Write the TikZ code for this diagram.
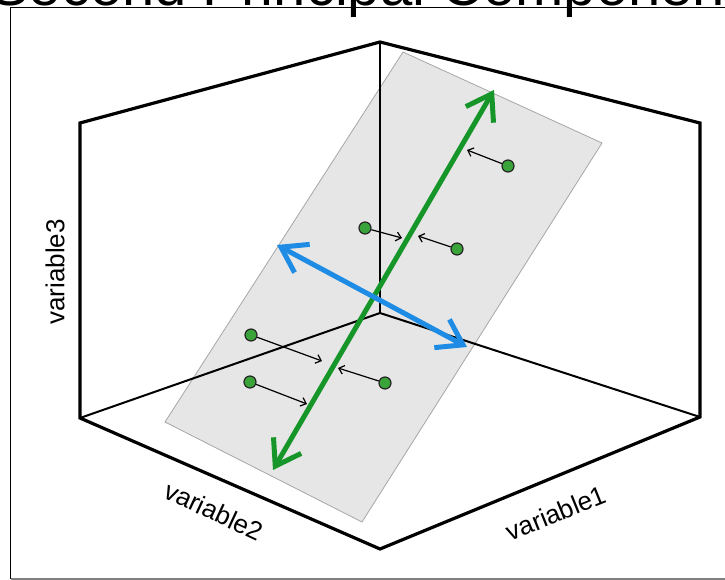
\documentclass[tikz,border=0pt]{standalone}
\usepackage{fontspec}
\setmainfont{Liberation Sans}
\usetikzlibrary{arrows.meta,calc}

\definecolor{pcgreen}{RGB}{22,150,40}
\definecolor{pcblue}{RGB}{30,140,228}
\definecolor{planegray}{RGB}{230,230,230}
\definecolor{obsgreen}{RGB}{58,163,58}

\tikzset{
    boxline/.style={line width=3.2pt, line join=miter},
    axisline/.style={line width=2pt},
    pcarrow/.style={line width=5pt, {Straight Barb[length=24pt, width=32pt]}-{Straight Barb[length=24pt, width=32pt]}},
    obs/.style={circle, draw=black!85, fill=obsgreen, line width=1.2pt, minimum size=12pt, inner sep=0pt},
    proj/.style={line width=1.2pt, -{Straight Barb[length=5pt, width=9pt]}},
    varlabel/.style={font=\fontsize{26}{30}\selectfont, inner sep=0pt}
}

\begin{document}
\begin{tikzpicture}[x=1pt, y=-1pt]
    \useasboundingbox (0,0) rectangle (725,580);
    % frame and title
    \coordinate(FT)at(10.7,7);
    \coordinate(FB)at(10.7,579);
    \node[anchor=base west, font=\fontsize{58}{60}\selectfont, inner sep=0pt] (title) at (-10,6) {Second Principal Component};
    \path[draw, line width=0.9pt](FB)to(FT)to($(FT)+(760,0)$);
    \path[draw, gray, line width=2pt](FB)to($(FB)+(760,0)$);

    % box corners
    \coordinate(O)at(380,313);  % back bottom
    \coordinate(T)at(380,42);   % back top
    \coordinate(L)at(80,123);
    \coordinate(Lb)at(80,418);
    \coordinate(R)at(700,123);
    \coordinate(Rb)at(700,417);
    \coordinate(F)at(380,549);  % front bottom

    % plane
    \coordinate(P1)at(403,52);
    \coordinate(P2)at(602,143);
    \coordinate(P3)at(362,522);
    \coordinate(P4)at(165,422);
    \path[draw, gray!70, fill=planegray, line width=0.8pt](P1)to(P2)to(P3)to(P4)to cycle;

    % box
    \path[draw, boxline](Lb)to(L)to(T)to(R)to(Rb)to(F)to cycle;
    \path[draw, axisline](T)to(O);
    \path[draw, axisline](Lb)to(O)to(Rb);

    % first component
    \coordinate(G1)at(273,470);
    \coordinate(G2)at(494,90);
    \path[draw, pcarrow, pcgreen](G1)to(G2);
    % second component
    \coordinate(B1)at(277,245);
    \coordinate(B2)at(467,347);
    \path[draw, pcarrow, pcblue](B1)to(B2);

    % observations and projections
    \node[obs](d1)at(508,166){};
    \node[obs](d2)at(365,228){};
    \node[obs](d3)at(457,249){};
    \node[obs](d4)at(251,335){};
    \node[obs](d5)at(250,382){};
    \node[obs](d6)at(385,383){};
    \coordinate(t1)at(467,150);
    \coordinate(t2)at(402,238);
    \coordinate(t3)at(418,236);
    \coordinate(t4)at(322,361);
    \coordinate(t5)at(307,404);
    \coordinate(t6)at(338,368);
    \foreach \i in {1,...,6}
        \path[draw, proj](d\i)to(t\i);

    % axis names
    \node[varlabel, rotate=90](v3)at(55,272){variable3};
    \node[varlabel, rotate=-25](v2)at(214,511){variable2};
    \node[varlabel, rotate=22](v1)at(556,513){variable1};
\end{tikzpicture}
\end{document}
